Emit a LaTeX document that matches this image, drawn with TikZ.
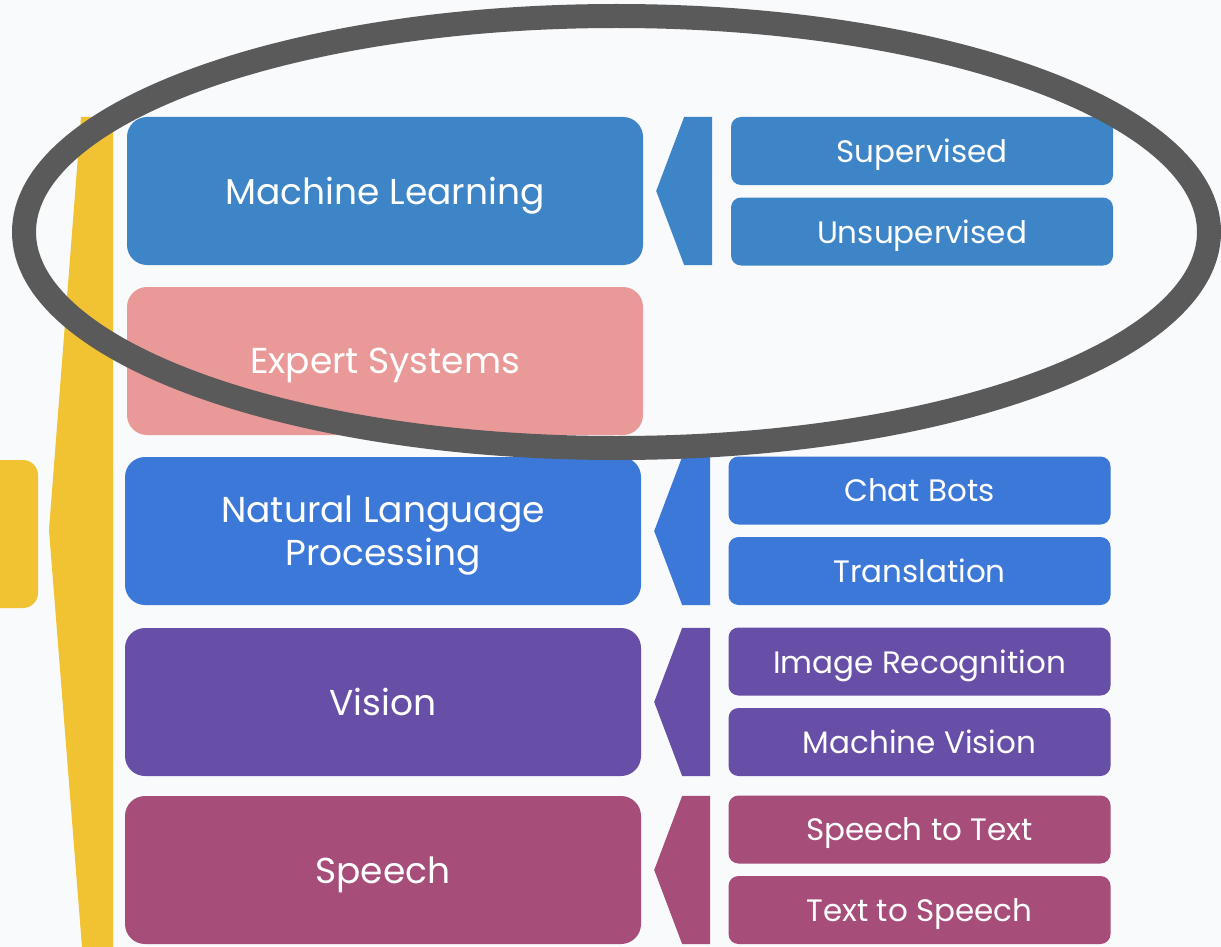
\documentclass[tikz,border=0pt]{standalone}
\usepackage{fontspec}
\setmainfont{Poppins}
\usepackage{tikz}
\usetikzlibrary{positioning}
\definecolor{bgcol}{RGB}{248,250,252}
\definecolor{mlblue}{HTML}{3D85C6}
\definecolor{expertred}{HTML}{EA9999}
\definecolor{nlpblue}{HTML}{3C78D8}
\definecolor{visionpurple}{HTML}{674EA7}
\definecolor{speechmagenta}{HTML}{A64D79}
\definecolor{bracketyellow}{HTML}{F1C232}
\definecolor{ringgrey}{HTML}{5A5A5A}
\tikzset{mainbox/.style = {rounded corners = 20, minimum width = 516, minimum height = 148,
                           text = white, align = center, font = \fontsize{36}{43}\selectfont,
                           text depth = 0, inner sep = 0}}
\tikzset{subbox/.style = {rounded corners = 10, minimum width = 382, minimum height = 68,
                          text = white, font = \fontsize{31}{34}\selectfont,
                          text depth = 0, inner sep = 0}}

\begin{document}
\begin{tikzpicture}[x=1pt, y=-1pt]
    \useasboundingbox (0, 0) rectangle (1221, 947);
    \fill [bgcol] (0, 0) rectangle (1221, 947);

    % bracket
    \fill [bracketyellow] (81, 117) -- (113, 117) -- (113, 947) -- (82, 947) -- (49, 530) -- cycle;
    \fill [bracketyellow, rounded corners = 15] (-30, 460) rectangle (38, 608);

    % main topics
    \node [mainbox, fill = mlblue] (ml) at (385, 191) {Machine Learning};
    \node [mainbox, fill = expertred] (expert) at (385, 361) {Expert Systems};
    \node [mainbox, fill = nlpblue] (nlp) at (383, 531) {Natural Language\\Processing};
    \node [mainbox, fill = visionpurple] (vision) at (383, 702) {Vision};
    \node [mainbox, fill = speechmagenta] (speech) at (383, 870) {Speech};

    % sub topics
    \node [subbox, fill = mlblue] (supervised) at (922, 151) {Supervised};
    \node [subbox, fill = mlblue] (unsupervised) at (922, 231.5) {Unsupervised};

    \node [subbox, fill = nlpblue] (chatbots) at (919.5, 490.5) {Chat Bots};
    \node [subbox, fill = nlpblue] (translation) at (919.5, 571) {Translation};

    \node [subbox, fill = visionpurple] (imagerec) at (919.5, 661.5) {Image Recognition};
    \node [subbox, fill = visionpurple] (machvision) at (919.5, 742) {Machine Vision};

    \node [subbox, fill = speechmagenta] (speechtext) at (919.5, 829.5) {Speech to Text};
    \node [subbox, fill = speechmagenta] (textspeech) at (919.5, 910) {Text to Speech};

    % wedges
    \foreach \topic/\col in {ml/mlblue, nlp/nlpblue, vision/visionpurple, speech/speechmagenta}
        \fill [\col] ([xshift=13]\topic.east) -- ([xshift=41]\topic.north east)
            -- ([xshift=69]\topic.north east) -- ([xshift=69]\topic.south east)
            -- ([xshift=41]\topic.south east) -- cycle;

    % highlight ring
    \draw [ringgrey, line width = 24] (616.5, 232) ellipse [x radius = 592.5, y radius = 216];
  \end{tikzpicture}
\end{document}
